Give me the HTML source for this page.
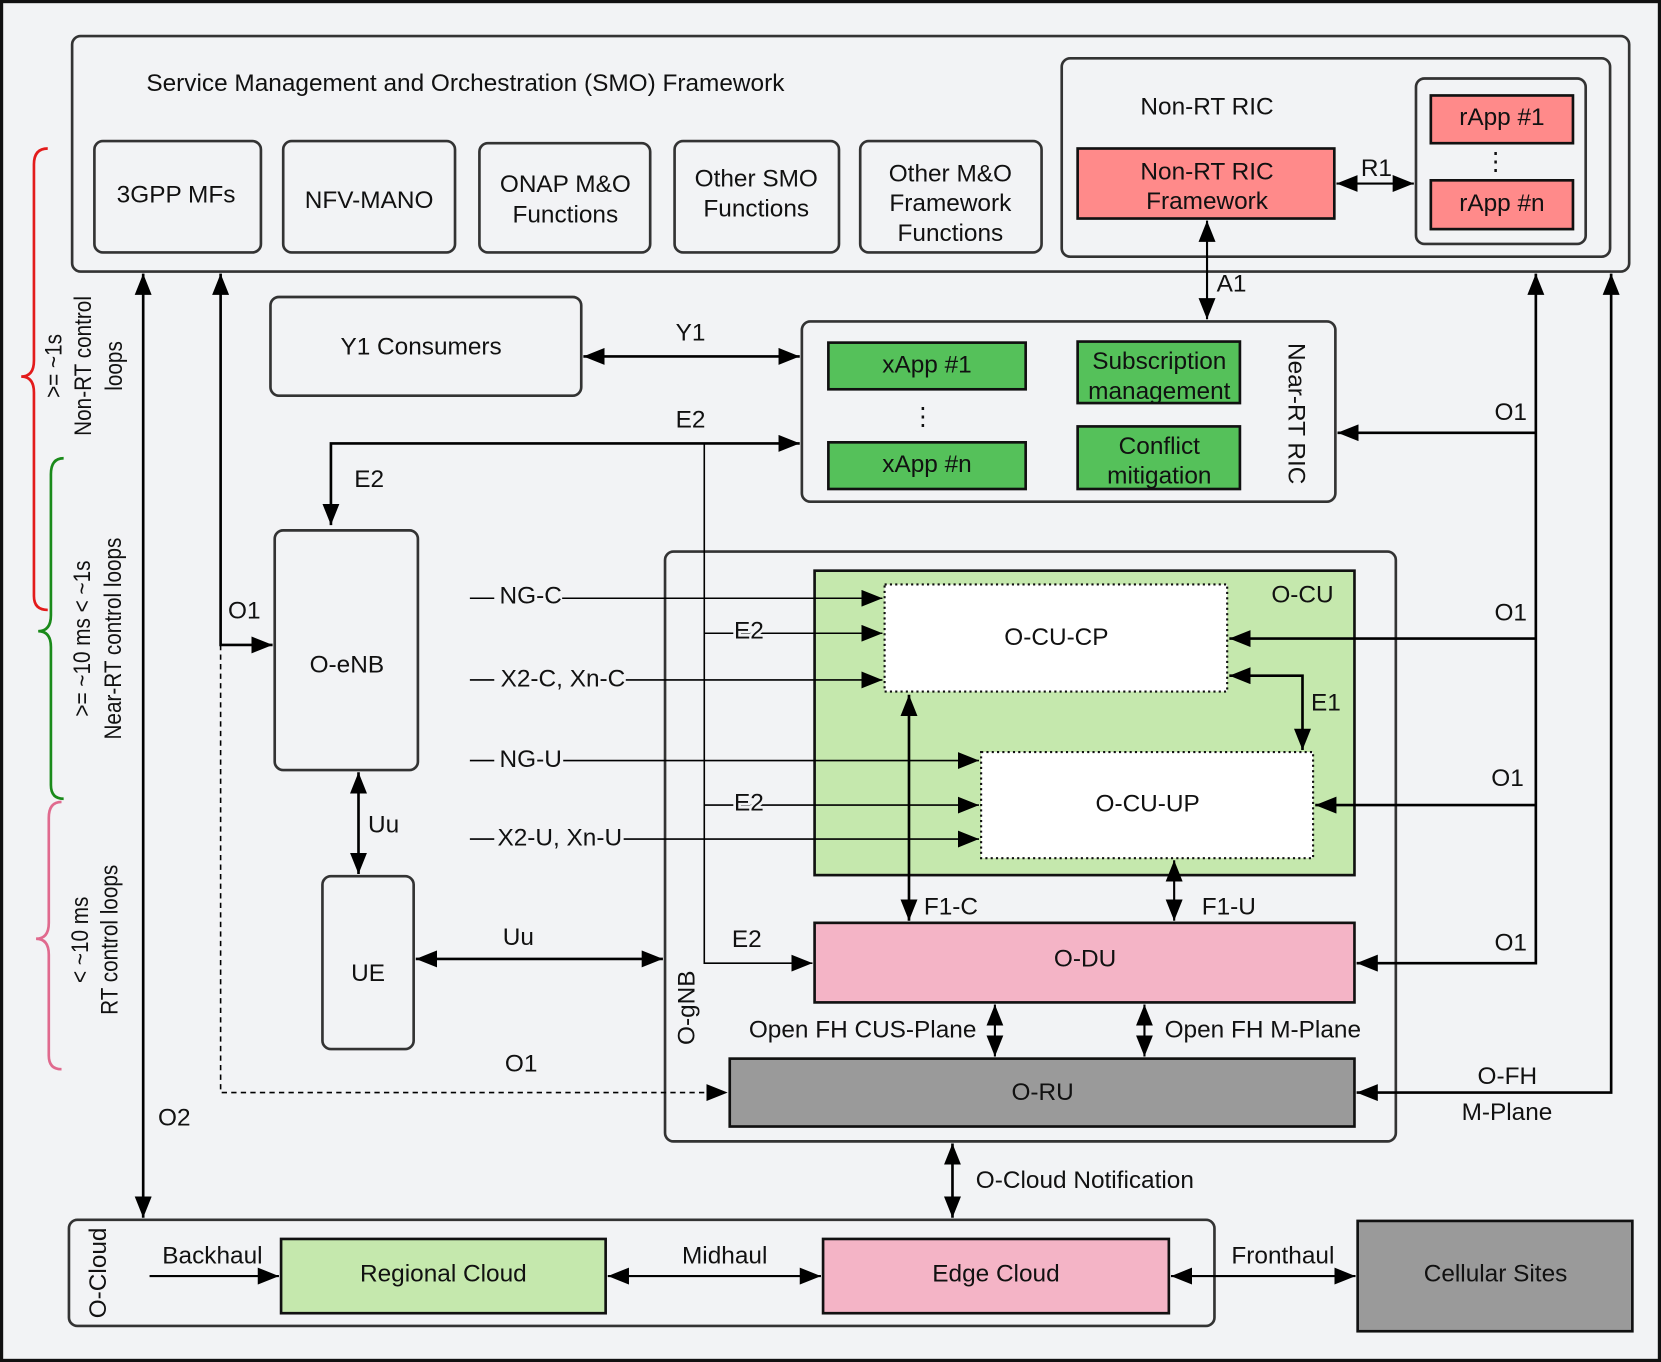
<!DOCTYPE html>
<html><head><meta charset="utf-8"><style>
html,body{margin:0;padding:0;background:#f2f3f5}
svg{display:block}
text{font-family:"Liberation Sans",sans-serif;font-size:23px;fill:#111}
</style></head><body>
<svg width="1661" height="1362" viewBox="0 0 1566 1284" preserveAspectRatio="none" xmlns="http://www.w3.org/2000/svg">
<defs>
<marker id="b" viewBox="0 0 10 10" refX="10" refY="5" markerWidth="20" markerHeight="16" markerUnits="userSpaceOnUse" orient="auto-start-reverse" preserveAspectRatio="none"><path d="M0,0L10,5L0,10z" fill="#000"/></marker>
</defs>
<rect x="1.5" y="1.5" width="1563" height="1281" fill="#f2f3f5" stroke="#111" stroke-width="3"/>
<g fill="none" stroke-width="2.5">
<path d="M45,140 Q32,140 32,155 L32,340 Q32,355 20,355 Q32,355 32,370 L32,562 Q32,575 45,575" stroke="#e31b1b"/>
<path d="M60,432 Q48,432 48,447 L48,580 Q48,595 36,595 Q48,595 48,610 L48,740 Q48,753 60,753" stroke="#1a8a1a"/>
<path d="M58,756 Q46,756 46,771 L46,870 Q46,885 34,885 Q46,885 46,900 L46,995 Q46,1008 58,1008" stroke="#e06a8e"/>
</g>
<g text-anchor="middle">
<text transform="translate(58,345) rotate(-90) scale(0.85,1)" font-size="24">&gt;= ~1s</text>
<text transform="translate(86,345) rotate(-90) scale(0.85,1)" font-size="24">Non-RT control</text>
<text transform="translate(115,345) rotate(-90) scale(0.85,1)" font-size="24">loops</text>
<text transform="translate(85,602) rotate(-90) scale(0.85,1)" font-size="24">&gt;= ~10 ms &lt; ~1s</text>
<text transform="translate(114,602) rotate(-90) scale(0.85,1)" font-size="24">Near-RT control loops</text>
<text transform="translate(83,886) rotate(-90) scale(0.85,1)" font-size="24">&lt; ~10 ms</text>
<text transform="translate(111,886) rotate(-90) scale(0.85,1)" font-size="24">RT control loops</text>
</g>
<g fill="none" stroke="#333" stroke-width="2.5">
<rect x="68" y="34" width="1468" height="222" rx="8"/>
<rect x="89" y="133" width="157" height="105" rx="8"/>
<rect x="267" y="133" width="162" height="105" rx="8"/>
<rect x="452" y="135" width="161" height="103" rx="8"/>
<rect x="636" y="133" width="155" height="105" rx="8"/>
<rect x="811" y="133" width="171" height="105" rx="8"/>
<rect x="1001" y="55" width="517" height="187" rx="8"/>
<rect x="1335" y="74" width="160" height="156" rx="8"/>
<rect x="255" y="280" width="293" height="93" rx="8"/>
<rect x="756" y="303" width="503" height="170" rx="8"/>
<rect x="259" y="500" width="135" height="226" rx="8"/>
<rect x="304" y="826" width="86" height="163" rx="8"/>
<rect x="627" y="520" width="689" height="556" rx="8"/>
<rect x="65" y="1150" width="1080" height="100" rx="8"/>
</g>
<text x="138" y="86">Service Management and Orchestration (SMO) Framework</text>
<g text-anchor="middle">
<text x="166" y="191">3GPP MFs</text>
<text x="348" y="196">NFV-MANO</text>
<text x="533" y="181">ONAP M&amp;O</text><text x="533" y="210">Functions</text>
<text x="713" y="176">Other SMO</text><text x="713" y="204">Functions</text>
<text x="896" y="171">Other M&amp;O</text><text x="896" y="199">Framework</text><text x="896" y="227">Functions</text>
<text x="1138" y="108">Non-RT RIC</text>
</g>
<g stroke="#111" stroke-width="2.5">
<rect x="1016" y="140" width="242" height="66" fill="#ff8a8a"/>
<rect x="1349" y="90" width="134" height="45" fill="#ff8a8a"/>
<rect x="1349" y="170" width="134" height="46" fill="#ff8a8a"/>
<rect x="781" y="323" width="186" height="44" fill="#55c15a"/>
<rect x="781" y="417" width="186" height="44" fill="#55c15a"/>
<rect x="1016" y="322" width="153" height="58" fill="#55c15a"/>
<rect x="1016" y="402" width="153" height="59" fill="#55c15a"/>
<rect x="768" y="538" width="509" height="287" fill="#c5e8ad"/>
<rect x="768" y="870" width="509" height="75" fill="#f4b4c6"/>
<rect x="688" y="998" width="589" height="64" fill="#9a9a9a"/>
<rect x="265" y="1168" width="306" height="70" fill="#c5e8ad"/>
<rect x="776" y="1168" width="326" height="70" fill="#f4b4c6"/>
<rect x="1280" y="1151" width="259" height="104" fill="#9a9a9a"/>
</g>
<rect x="834" y="551" width="323" height="101" fill="#fff" stroke="#111" stroke-width="2" stroke-dasharray="2,3"/>
<rect x="925" y="709" width="313" height="100" fill="#fff" stroke="#111" stroke-width="2" stroke-dasharray="2,3"/>
<g text-anchor="middle">
<text x="1138" y="169">Non-RT RIC</text><text x="1138" y="197">Framework</text>
<text x="1416" y="118">rApp #1</text><text x="1416" y="199">rApp #n</text>
<text x="1410" y="160">⋮</text>
<text x="874" y="351">xApp #1</text><text x="874" y="445">xApp #n</text>
<text x="870" y="400">⋮</text>
<text x="1093" y="348">Subscription</text><text x="1093" y="376">management</text>
<text x="1093" y="428">Conflict</text><text x="1093" y="456">mitigation</text>
<text transform="translate(1215,390) rotate(90)">Near-RT RIC</text>
<text x="397" y="334">Y1 Consumers</text>
<text x="327" y="634">O-eNB</text>
<text x="347" y="925">UE</text>
<text x="1228" y="568">O-CU</text>
<text x="996" y="608">O-CU-CP</text>
<text x="1082" y="765">O-CU-UP</text>
<text x="1023" y="911">O-DU</text>
<text x="983" y="1037">O-RU</text>
<text transform="translate(655,950) rotate(-90)">O-gNB</text>
<text transform="translate(100,1200) rotate(-90)">O-Cloud</text>
<text x="418" y="1208">Regional Cloud</text>
<text x="939" y="1208">Edge Cloud</text>
<text x="1410" y="1208">Cellular Sites</text>
</g>
<g fill="none" stroke="#000" stroke-width="2">
<line x1="1260" y1="173" x2="1333" y2="173" marker-start="url(#b)" marker-end="url(#b)"/>
<line x1="1138" y1="208" x2="1138" y2="301" marker-start="url(#b)" marker-end="url(#b)"/>
<line x1="550" y1="336" x2="754" y2="336" marker-start="url(#b)" marker-end="url(#b)" stroke-width="2.5"/>
<path d="M312,495 L312,418 L754,418" marker-start="url(#b)" marker-end="url(#b)" stroke-width="2.5"/>
<path d="M664,418 L664,908 L766,908" marker-end="url(#b)" stroke-width="1.5"/>
<line x1="664" y1="597" x2="832" y2="597" marker-end="url(#b)" stroke-width="1.5"/>
<line x1="664" y1="759" x2="923" y2="759" marker-end="url(#b)" stroke-width="1.5"/>
<line x1="443" y1="564" x2="466" y2="564" stroke-width="1.5"/><line x1="530" y1="564" x2="832" y2="564" marker-end="url(#b)" stroke-width="1.5"/>
<line x1="443" y1="641" x2="466" y2="641" stroke-width="1.5"/><line x1="590" y1="641" x2="832" y2="641" marker-end="url(#b)" stroke-width="1.5"/>
<line x1="443" y1="717" x2="466" y2="717" stroke-width="1.5"/><line x1="531" y1="717" x2="923" y2="717" marker-end="url(#b)" stroke-width="1.5"/>
<line x1="443" y1="791" x2="466" y2="791" stroke-width="1.5"/><line x1="588" y1="791" x2="923" y2="791" marker-end="url(#b)" stroke-width="1.5"/>
<path d="M1159,637 L1228,637 L1228,707" marker-start="url(#b)" marker-end="url(#b)" stroke-width="2.5"/>
<line x1="857" y1="655" x2="857" y2="868" marker-start="url(#b)" marker-end="url(#b)" stroke-width="2.5"/>
<line x1="1107" y1="811" x2="1107" y2="868" marker-start="url(#b)" marker-end="url(#b)" stroke-width="2"/>
<line x1="938" y1="947" x2="938" y2="996" marker-start="url(#b)" marker-end="url(#b)" stroke-width="2"/>
<line x1="1079" y1="947" x2="1079" y2="996" marker-start="url(#b)" marker-end="url(#b)" stroke-width="2"/>
<line x1="338" y1="728" x2="338" y2="824" marker-start="url(#b)" marker-end="url(#b)" stroke-width="2.5"/>
<line x1="392" y1="904" x2="625" y2="904" marker-start="url(#b)" marker-end="url(#b)" stroke-width="2.5"/>
<path d="M208,258 L208,608 L257,608" marker-start="url(#b)" marker-end="url(#b)" stroke-width="2.5"/>
<path d="M208,608 L208,1030 L686,1030" marker-end="url(#b)" stroke-width="1.5" stroke-dasharray="5,4"/>
<line x1="135" y1="258" x2="135" y2="1148" marker-start="url(#b)" marker-end="url(#b)" stroke-width="2.5"/>
<path d="M1448,258 L1448,908 L1279,908" marker-start="url(#b)" marker-end="url(#b)" stroke-width="2.5"/>
<line x1="1448" y1="408" x2="1261" y2="408" marker-end="url(#b)" stroke-width="2.5"/>
<line x1="1448" y1="602" x2="1159" y2="602" marker-end="url(#b)" stroke-width="2.5"/>
<line x1="1448" y1="759" x2="1240" y2="759" marker-end="url(#b)" stroke-width="2.5"/>
<path d="M1519,258 L1519,1030 L1279,1030" marker-start="url(#b)" marker-end="url(#b)" stroke-width="2.5"/>
<line x1="898" y1="1078" x2="898" y2="1148" marker-start="url(#b)" marker-end="url(#b)" stroke-width="2.5"/>
<line x1="141" y1="1203" x2="263" y2="1203" marker-end="url(#b)" stroke-width="2"/>
<line x1="573" y1="1203" x2="774" y2="1203" marker-start="url(#b)" marker-end="url(#b)" stroke-width="2"/>
<line x1="1104" y1="1203" x2="1278" y2="1203" marker-start="url(#b)" marker-end="url(#b)" stroke-width="2"/>
</g>
<g>
<text x="1283" y="166">R1</text>
<text x="1147" y="275">A1</text>
<text x="637" y="321">Y1</text>
<text x="637" y="403">E2</text>
<text x="334" y="459">E2</text>
<text x="471" y="569">NG-C</text>
<text x="472" y="647">X2-C, Xn-C</text>
<text x="471" y="723">NG-U</text>
<text x="469" y="797">X2-U, Xn-U</text>
<text x="692" y="602" style="paint-order:stroke" stroke="#f2f3f5" stroke-width="5">E2</text>
<text x="692" y="764" style="paint-order:stroke" stroke="#f2f3f5" stroke-width="5">E2</text>
<text x="690" y="893">E2</text>
<text x="1236" y="670">E1</text>
<text x="871" y="862">F1-C</text>
<text x="1133" y="862">F1-U</text>
<text x="706" y="978">Open FH CUS-Plane</text>
<text x="1098" y="978">Open FH M-Plane</text>
<text x="347" y="785">Uu</text>
<text x="474" y="891">Uu</text>
<text x="215" y="583">O1</text>
<text x="476" y="1010">O1</text>
<text x="149" y="1061">O2</text>
<text x="1409" y="396">O1</text>
<text x="1409" y="585">O1</text>
<text x="1406" y="741">O1</text>
<text x="1409" y="896">O1</text>
<text x="1393" y="1022">O-FH</text>
<text x="1378" y="1056">M-Plane</text>
<text x="920" y="1120">O-Cloud Notification</text>
<text x="153" y="1191">Backhaul</text>
<text x="643" y="1191">Midhaul</text>
<text x="1161" y="1191">Fronthaul</text>
</g>
</svg>
</body></html>
